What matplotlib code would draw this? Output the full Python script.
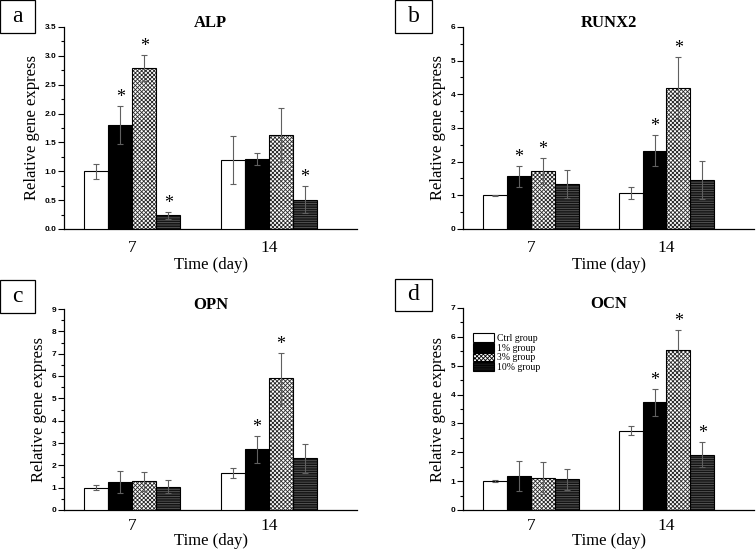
import matplotlib
matplotlib.use("Agg")
import matplotlib.pyplot as plt
from matplotlib.ticker import MultipleLocator, FormatStrFormatter

plt.rcParams["hatch.linewidth"] = 0.6

days = ["7", "14"]
groups = ["Ctrl group", "1% group", "3% group", "10% group"]

# values per group: [day 7, day 14]
alp_mean = [[1.00, 1.20], [1.80, 1.21], [2.79, 1.63], [0.24, 0.51]]
alp_err = [[0.13, 0.42], [0.33, 0.10], [0.22, 0.47], [0.06, 0.24]]
alp_star = [[False, False], [True, False], [True, False], [True, True]]

runx2_mean = [[1.00, 1.08], [1.57, 2.32], [1.72, 4.19], [1.33, 1.45]]
runx2_err = [[0.02, 0.18], [0.31, 0.46], [0.38, 0.92], [0.41, 0.57]]
runx2_star = [[False, False], [True, True], [True, True], [False, False]]

opn_mean = [[1.00, 1.66], [1.27, 2.71], [1.28, 5.90], [1.05, 2.31]]
opn_err = [[0.12, 0.21], [0.49, 0.59], [0.44, 1.14], [0.28, 0.64]]
opn_star = [[False, False], [False, True], [False, True], [False, False]]

ocn_mean = [[1.00, 2.75], [1.18, 3.73], [1.10, 5.53], [1.06, 1.92]]
ocn_err = [[0.03, 0.15], [0.53, 0.47], [0.55, 0.72], [0.36, 0.44]]
ocn_star = [[False, False], [False, True], [False, True], [False, True]]

panels = [
    ("a", "ALP", alp_mean, alp_err, alp_star, 3.5, 0.5, "%.1f", (64, 27, 357, 229), (0, 0, 35, 33)),
    ("b", "RUNX2", runx2_mean, runx2_err, runx2_star, 6, 1, "%d", (463, 27, 754, 229), (395, 0, 432, 33)),
    ("c", "OPN", opn_mean, opn_err, opn_star, 9, 1, "%d", (64, 309, 357, 510), (0, 280, 35, 313)),
    ("d", "OCN", ocn_mean, ocn_err, ocn_star, 7, 1, "%d", (463, 308, 754, 510), (395, 279, 432, 311)),
]

W, H = 756, 553
fig = plt.figure(figsize=(W / 100, H / 100), dpi=100)
serif = "Liberation Serif"
sans = "Liberation Sans"

styles = [
    dict(face="white", hatch=None, hcol="black"),
    dict(face="black", hatch=None, hcol="black"),
    dict(face="white", hatch="xxxxxxxx", hcol="#2a2a2a"),
    dict(face="#141414", hatch="-------", hcol="#5c5c5c"),
]

bw = 0.176
xc = [0, 1]

for letter, title, means, errs, stars, ymax, step, fmt, box, lbox in panels:
    l, t, r, b = box
    top_row = letter in "ab"
    ax = fig.add_axes([l / W, 1 - b / H, (r - l) / W, (b - t) / H])
    handles = []
    for i in range(4):
        xs = [c + (i - 1.5) * bw for c in xc]
        st = styles[i]
        if st["hatch"]:
            ax.bar(xs, means[i], bw, color=st["face"], edgecolor=st["hcol"],
                   hatch=st["hatch"], linewidth=0, zorder=2)
        h = ax.bar(xs, means[i], bw, color=st["face"] if not st["hatch"] else "none",
                   edgecolor="black", linewidth=0.8, zorder=3)
        ax.errorbar(xs, means[i], yerr=errs[i], fmt="none", ecolor="#606060",
                    elinewidth=0.8, capsize=2.5, capthick=0.8, zorder=4)
        for j in range(2):
            if stars[i][j]:
                ax.text(xs[j], means[i][j] + errs[i][j], "*", ha="center", va="bottom",
                        fontsize=13, fontfamily=serif, zorder=5)
        handles.append(h)

    ax.set_xlim(-0.5, 1.645)
    ax.set_ylim(0, ymax)
    ax.set_xticks(xc)
    ax.set_xticklabels(days, fontfamily=serif, fontsize=12.5)
    ax.tick_params(axis="x", length=0, pad=8 if top_row else 6)
    ax.yaxis.set_major_locator(MultipleLocator(step))
    ax.yaxis.set_minor_locator(MultipleLocator(step / 2))
    ax.yaxis.set_major_formatter(FormatStrFormatter(fmt))
    ax.tick_params(axis="y", which="major", length=4, width=0.8, labelsize=6, pad=1.5)
    ax.tick_params(axis="y", which="minor", length=2, width=0.8)
    for lab in ax.get_yticklabels():
        lab.set_fontfamily(sans)
        lab.set_fontweight("bold")
    for s in ["top", "right"]:
        ax.spines[s].set_visible(False)
    for s in ["left", "bottom"]:
        ax.spines[s].set_linewidth(0.9)
    ax.set_xlabel("Time (day)", fontfamily=serif, fontsize=12, labelpad=1 if top_row else -1)
    ax.set_ylabel("Relative gene express", fontfamily=serif, fontsize=12, labelpad=3)
    ax.set_title(title, fontfamily=serif, fontsize=12, fontweight="bold", y=1.0, pad=0)

    # panel letter box
    bl, bt, br, bb = lbox
    fig.text((bl + br) / 2 / W, 1 - (bt + bb) / 2 / H, letter, ha="center", va="center",
             fontfamily=serif, fontsize=17)
    fig.patches.append(plt.Rectangle((bl / W, 1 - bb / H), (br - bl) / W, (bb - bt) / H,
                                     transform=fig.transFigure, fill=False,
                                     edgecolor="black", linewidth=0.9))

    if letter == "d":
        ax.legend(handles, groups, loc="upper left", bbox_to_anchor=(0.035, 0.875),
                  frameon=False, prop={"family": serif, "size": 7},
                  handlelength=2.1, handleheight=1.0, labelspacing=0.0,
                  handletextpad=0.3, borderaxespad=0, borderpad=0)
        # make legend patches show fill and hatching
        leg = ax.get_legend()
        for p, st in zip(leg.get_patches(), styles):
            p.set_facecolor(st["face"])
            if st["hatch"]:
                p.set_hatch(st["hatch"])
            p.set_edgecolor("black")
            p.set_linewidth(0.8)

fig.savefig("out.png", dpi=100)
